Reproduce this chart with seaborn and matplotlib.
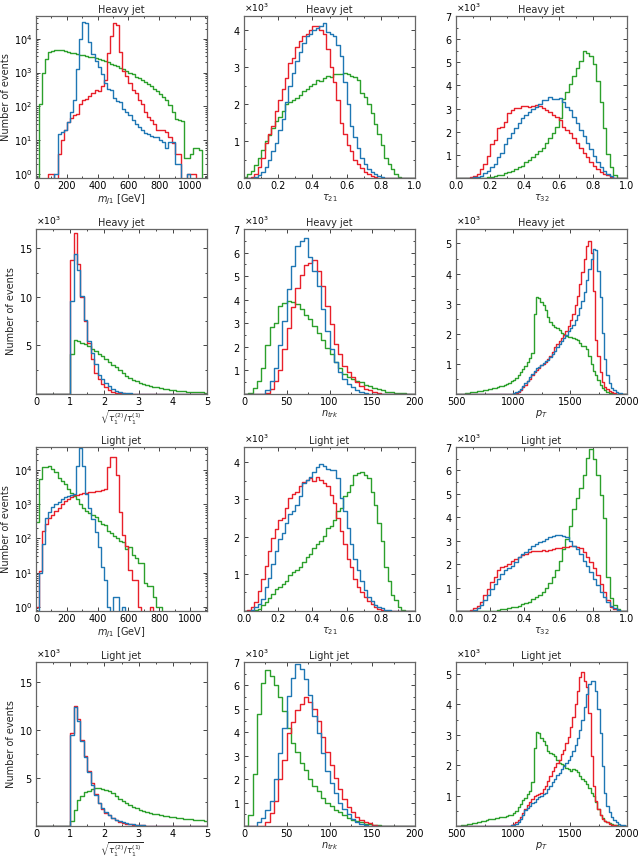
import numpy as np
import matplotlib
matplotlib.use("Agg")
import matplotlib.pyplot as plt
from matplotlib.ticker import ScalarFormatter, AutoMinorLocator
import seaborn as sns

sns.set_style("ticks")
plt.rcParams['font.family'] = ['DejaVu Sans']

# ---------------- data (counts per bin) ----------------
# jet mass, 20 GeV bins from 0 to 1100 (log scale panels)
heavy_mass_green = [0, 120, 1000, 2500, 4000, 4300, 4500, 4600, 4600, 4400,
                    4000, 3900, 3700, 3500, 3400, 3300, 3100, 2900, 2800, 2650,
                    2500, 2350, 2200, 2000, 1850, 1650, 1550, 1400, 1250, 1120,
                    1000, 880, 750, 680, 600, 520, 450, 400, 330, 280,
                    230, 190, 150, 110, 70, 42, 40, 38, 3, 3,
                    4, 6, 6, 5, 0]
heavy_mass_red = [0, 0, 0, 0, 1, 1, 0, 4, 10, 20,
                  35, 45, 55, 60, 120, 150, 160, 200, 250, 300,
                  280, 400, 600, 3800, 12000, 30000, 26000, 4000, 1100, 800,
                  500, 300, 250, 150, 120, 70, 50, 40, 30, 20,
                  20, 20, 18, 12, 8, 4, 4, 0, 0, 1,
                  1, 1, 0, 0, 0]
heavy_mass_blue = [0, 0, 0, 0, 0, 0, 1, 15, 17, 20,
                   35, 70, 150, 1300, 10000, 32000, 30000, 8000, 3500, 2200,
                   1500, 900, 480, 330, 300, 180, 140, 130, 85, 70,
                   55, 40, 30, 25, 20, 16, 15, 13, 12, 12,
                   10, 9, 6, 9, 9, 2, 2, 0, 0, 1,
                   0, 0, 0, 0, 0]
light_mass_green = [300, 5400, 12000, 12500, 13000, 10500, 8500, 6000, 4800, 3800,
                    2750, 2200, 1750, 1400, 1000, 800, 620, 550, 500, 420,
                    330, 270, 240, 170, 140, 120, 100, 85, 80, 50,
                    57, 32, 26, 19, 19, 5, 4, 4, 2, 1,
                    1, 0, 0, 0, 0, 0, 0, 0, 0, 0,
                    0, 0, 0, 0, 0]
light_mass_red = [1, 11, 160, 270, 400, 500, 650, 800, 1000, 1250,
                  1450, 1650, 1800, 1900, 2000, 2100, 2200, 2250, 2300, 2400,
                  2450, 2550, 2800, 12000, 24000, 24000, 7000, 600, 130, 60,
                  12, 6, 6, 1, 0, 0, 0, 1, 0, 0,
                  0, 0, 0, 0, 0, 0, 0, 0, 0, 0,
                  0, 0, 0, 0, 0]
light_mass_blue = [0, 10, 70, 400, 600, 850, 1000, 1200, 1400, 1600,
                   1700, 1800, 2000, 13000, 45000, 13000, 2000, 800, 370, 150,
                   57, 15, 6, 1, 0, 2, 2, 0, 1, 0,
                   0, 0, 0, 0, 0, 0, 0, 0, 0, 0,
                   0, 0, 0, 0, 0, 0, 0, 0, 0, 0,
                   0, 0, 0, 0, 0]

# tau21, 0.02 bins from 0 to 1 (x 10^3 events)
heavy_tau21_green = [0.02, 0.1, 0.2, 0.35, 0.55, 0.75, 1.0, 1.15, 1.35, 1.55,
                     1.65, 1.8, 2.0, 2.05, 2.1, 2.15, 2.25, 2.35, 2.4, 2.5,
                     2.55, 2.65, 2.62, 2.7, 2.75, 2.73, 2.8, 2.8, 2.82, 2.85,
                     2.8, 2.77, 2.72, 2.65, 2.3, 2.2, 2.0, 1.75, 1.45, 1.2,
                     0.9, 0.55, 0.38, 0.25, 0.12, 0.03, 0, 0, 0, 0]
heavy_tau21_red = [0, 0, 0.02, 0.1, 0.3, 0.55, 0.95, 1.2, 1.4, 1.8,
                   2.1, 2.4, 2.7, 3.1, 3.25, 3.55, 3.7, 3.85, 3.9, 4.0,
                   4.1, 4.1, 4.0, 3.9, 3.5, 3.0, 2.6, 2.1, 1.5, 1.2,
                   0.9, 0.72, 0.5, 0.38, 0.27, 0.17, 0.1, 0.06, 0.03, 0.01,
                   0, 0, 0, 0, 0, 0, 0, 0, 0, 0]
heavy_tau21_blue = [0, 0, 0, 0.02, 0.08, 0.15, 0.3, 0.5, 0.72, 0.95,
                    1.3, 1.6, 2.05, 2.5, 2.85, 3.15, 3.4, 3.65, 3.85, 3.9,
                    4.0, 4.05, 4.1, 4.18, 3.95, 3.9, 3.85, 3.6, 3.3, 2.6,
                    2.0, 1.4, 1.1, 0.8, 0.55, 0.38, 0.25, 0.15, 0.1, 0.05,
                    0.02, 0, 0, 0, 0, 0, 0, 0, 0, 0]
light_tau21_green = [0, 0, 0, 0.02, 0.05, 0.16, 0.25, 0.34, 0.47, 0.6,
                     0.65, 0.73, 0.82, 0.96, 1.04, 1.09, 1.18, 1.31, 1.44, 1.53,
                     1.7, 1.8, 1.88, 2.02, 2.24, 2.28, 2.46, 2.68, 2.77, 3.08,
                     3.21, 3.39, 3.65, 3.72, 3.74, 3.65, 3.57, 3.21, 2.86, 2.37,
                     1.88, 1.18, 0.82, 0.42, 0.29, 0.12, 0.04, 0, 0, 0]
light_tau21_red = [0, 0.03, 0.1, 0.25, 0.55, 0.87, 1.2, 1.6, 1.97, 2.2,
                   2.45, 2.5, 2.77, 3.05, 3.15, 3.2, 3.35, 3.48, 3.52, 3.57,
                   3.5, 3.6, 3.52, 3.45, 3.35, 3.12, 2.9, 2.5, 2.15, 1.8,
                   1.4, 1.17, 0.87, 0.65, 0.5, 0.38, 0.28, 0.2, 0.12, 0.06,
                   0.03, 0.01, 0, 0, 0, 0, 0, 0, 0, 0]
light_tau21_blue = [0, 0, 0.03, 0.1, 0.2, 0.33, 0.65, 0.9, 1.27, 1.62,
                    1.93, 2.1, 2.37, 2.6, 2.68, 2.86, 3.1, 3.43, 3.52, 3.6,
                    3.75, 3.88, 3.94, 3.9, 3.83, 3.8, 3.78, 3.57, 3.04, 2.68,
                    2.24, 1.8, 1.4, 1.09, 0.82, 0.56, 0.38, 0.27, 0.16, 0.12,
                    0.07, 0.04, 0.02, 0.01, 0, 0, 0, 0, 0, 0]

# tau32, 0.02 bins from 0 to 1 (x 10^3 events)
heavy_tau32_green = [0, 0, 0, 0, 0, 0, 0, 0, 0, 0.03,
                     0.06, 0.08, 0.11, 0.15, 0.2, 0.25, 0.32, 0.39, 0.46, 0.54,
                     0.68, 0.77, 0.92, 1.03, 1.17, 1.31, 1.52, 1.73, 1.94, 2.22,
                     2.6, 3.42, 3.7, 4.06, 4.4, 4.76, 5.04, 5.49, 5.42, 5.28,
                     4.94, 4.2, 3.28, 2.15, 1.03, 0.46, 0.11, 0.02, 0, 0]
heavy_tau32_red = [0, 0, 0, 0, 0.04, 0.1, 0.18, 0.4, 0.6, 0.96,
                   1.45, 1.66, 2.15, 2.22, 2.44, 2.8, 2.93, 3.03, 3.03, 3.1,
                   3.11, 3.07, 3.12, 3.17, 3.1, 3.03, 2.93, 2.86, 2.72, 2.65,
                   2.5, 2.22, 2.08, 1.94, 1.73, 1.52, 1.31, 1.1, 0.89, 0.68,
                   0.5, 0.4, 0.25, 0.18, 0.11, 0.04, 0.01, 0, 0, 0]
heavy_tau32_blue = [0, 0, 0, 0, 0, 0.03, 0.05, 0.1, 0.2, 0.32,
                    0.46, 0.6, 0.89, 1.1, 1.45, 1.73, 1.94, 2.15, 2.37, 2.58,
                    2.72, 2.86, 3.0, 3.07, 3.21, 3.35, 3.39, 3.49, 3.42, 3.4,
                    3.45, 3.28, 3.07, 2.93, 2.65, 2.37, 2.08, 1.8, 1.52, 1.24,
                    0.96, 0.68, 0.46, 0.3, 0.18, 0.08, 0.02, 0, 0, 0]
light_tau32_green = [0, 0, 0, 0, 0, 0, 0, 0, 0, 0,
                     0, 0, 0.05, 0.07, 0.09, 0.12, 0.15, 0.19, 0.22, 0.28,
                     0.34, 0.4, 0.5, 0.58, 0.68, 0.8, 1.0, 1.2, 1.45, 1.75,
                     2.15, 2.65, 3.07, 3.63, 4.34, 4.83, 5.25, 5.82, 6.52, 6.92,
                     6.5, 5.82, 4.97, 3.99, 1.45, 0.54, 0.25, 0.08, 0.02, 0]
light_tau32_red = [0, 0, 0, 0, 0.04, 0.11, 0.2, 0.39, 0.68, 0.96,
                   1.24, 1.45, 1.73, 1.87, 1.94, 2.01, 2.15, 2.22, 2.3, 2.37,
                   2.44, 2.5, 2.54, 2.58, 2.58, 2.6, 2.54, 2.6, 2.65, 2.67,
                   2.69, 2.72, 2.75, 2.79, 2.77, 2.74, 2.7, 2.5, 2.3, 2.1,
                   1.85, 1.55, 1.17, 0.82, 0.46, 0.18, 0.07, 0.02, 0, 0]
light_tau32_blue = [0, 0, 0, 0, 0, 0.03, 0.11, 0.25, 0.46, 0.68,
                    0.96, 1.17, 1.38, 1.59, 1.73, 1.85, 1.94, 2.11, 2.3, 2.44,
                    2.5, 2.65, 2.79, 2.86, 2.93, 3.0, 3.07, 3.14, 3.21, 3.25,
                    3.25, 3.21, 3.14, 3.0, 2.79, 2.65, 2.44, 2.15, 1.94, 1.66,
                    1.38, 1.1, 0.82, 0.6, 0.39, 0.21, 0.11, 0.03, 0, 0]

# sqrt(tau1(2)/tau1(1)), 0.1 bins from 0 to 5 (x 10^3 events)
heavy_sqrt_green = [0, 0, 0, 0, 0, 0, 0, 0, 0, 0,
                    4.1, 5.6, 5.5, 5.3, 5.2, 4.9, 4.6, 4.4, 4.1, 3.9,
                    3.6, 3.3, 3.0, 2.75, 2.45, 2.15, 1.9, 1.65, 1.45, 1.3,
                    1.15, 1.05, 0.95, 0.85, 0.75, 0.67, 0.6, 0.53, 0.47, 0.42,
                    0.37, 0.33, 0.3, 0.27, 0.24, 0.22, 0.2, 0.18, 0.16, 0.15]
heavy_sqrt_red = [0, 0, 0, 0, 0, 0, 0, 0, 0, 0,
                  13.8, 16.6, 13.4, 10.0, 7.5, 5.3, 3.6, 2.2, 1.5, 1.0,
                  0.7, 0.4, 0.25, 0.15, 0.1, 0.07, 0.04, 0.02, 0.01, 0.01,
                  0, 0, 0, 0, 0, 0, 0, 0, 0, 0,
                  0, 0, 0, 0, 0, 0, 0, 0, 0, 0]
heavy_sqrt_blue = [0, 0, 0, 0, 0, 0, 0, 0, 0, 0,
                   9.6, 14.4, 12.8, 10.1, 7.6, 5.5, 4.2, 3.1, 2.0, 1.5,
                   1.1, 0.8, 0.5, 0.35, 0.25, 0.15, 0.1, 0.06, 0.04, 0.02,
                   0.01, 0.01, 0.01, 0, 0, 0, 0, 0, 0, 0,
                   0, 0, 0, 0, 0, 0, 0, 0, 0, 0]
light_sqrt_green = [0, 0, 0, 0, 0, 0, 0, 0, 0, 0,
                    0.5, 1.7, 2.7, 3.1, 3.5, 3.7, 3.85, 3.95, 3.95, 3.85,
                    3.75, 3.6, 3.45, 3.15, 2.85, 2.6, 2.4, 2.2, 2.0, 1.85,
                    1.72, 1.6, 1.5, 1.4, 1.3, 1.22, 1.15, 1.08, 1.02, 0.97,
                    0.92, 0.87, 0.82, 0.77, 0.73, 0.69, 0.65, 0.62, 0.59, 0.56]
light_sqrt_red = [0, 0, 0, 0, 0, 0, 0, 0, 0, 0,
                  9.7, 12.5, 11.2, 9.0, 7.3, 5.7, 4.5, 3.3, 2.4, 1.8,
                  1.4, 1.1, 0.8, 0.6, 0.45, 0.35, 0.25, 0.2, 0.15, 0.12,
                  0.08, 0.06, 0.05, 0.04, 0.03, 0.02, 0.02, 0.01, 0.01, 0.01,
                  0, 0, 0, 0, 0, 0, 0, 0, 0, 0]
light_sqrt_blue = [0, 0, 0, 0, 0, 0, 0, 0, 0, 0,
                   9.5, 12.4, 11.0, 8.9, 7.2, 5.6, 4.3, 3.2, 2.4, 1.9,
                   1.5, 1.15, 0.85, 0.65, 0.5, 0.38, 0.28, 0.22, 0.17, 0.12,
                   0.1, 0.07, 0.05, 0.04, 0.03, 0.02, 0.02, 0.01, 0.01, 0.01,
                   0, 0, 0, 0, 0, 0, 0, 0, 0, 0]

# n_trk, bins of 5 from 0 to 200 (x 10^3 events)
heavy_ntrk_green = [0, 0.05, 0.25, 0.55, 1.1, 2.1, 2.85, 3.0, 3.75, 3.85,
                    3.95, 3.9, 3.8, 3.6, 3.35, 3.2, 2.9, 2.6, 2.3, 1.95,
                    1.7, 1.35, 1.1, 0.85, 0.72, 0.65, 0.55, 0.5, 0.4, 0.32,
                    0.25, 0.2, 0.15, 0.1, 0.08, 0.06, 0.04, 0.03, 0.02, 0.01]
heavy_ntrk_red = [0, 0, 0, 0, 0, 0.05, 0.2, 0.55, 1.0, 1.9,
                  2.8, 3.7, 4.5, 5.06, 5.48, 5.55, 5.7, 5.2, 4.57, 3.73,
                  2.96, 2.12, 1.7, 1.2, 0.93, 0.72, 0.5, 0.34, 0.22, 0.15,
                  0.08, 0.04, 0.02, 0.01, 0, 0, 0, 0, 0, 0]
heavy_ntrk_blue = [0, 0, 0, 0, 0.02, 0.15, 0.55, 1.1, 2.1, 3.1,
                   4.46, 5.41, 6.26, 6.5, 6.6, 5.83, 5.2, 4.57, 3.59, 2.68,
                   1.9, 1.35, 0.93, 0.62, 0.43, 0.29, 0.18, 0.08, 0.04, 0.02,
                   0, 0, 0, 0, 0, 0, 0, 0, 0, 0]
light_ntrk_green = [0.02, 0.45, 2.2, 4.8, 6.1, 6.65, 6.4, 6.0, 5.5, 4.9,
                    4.2, 3.55, 3.15, 2.7, 2.4, 2.0, 1.7, 1.5, 1.2, 1.0,
                    0.85, 0.7, 0.58, 0.45, 0.35, 0.27, 0.2, 0.15, 0.1, 0.07,
                    0.05, 0.03, 0.02, 0.01, 0.01, 0, 0, 0, 0, 0]
light_ntrk_red = [0, 0, 0, 0, 0, 0.15, 0.55, 1.07, 2.0, 2.8,
                  3.95, 4.44, 4.93, 5.2, 5.52, 5.28, 5.0, 4.5, 3.8, 3.17,
                  2.6, 2.05, 1.56, 1.14, 0.79, 0.58, 0.39, 0.27, 0.18, 0.11,
                  0.05, 0.02, 0, 0, 0, 0, 0, 0, 0, 0]
light_ntrk_blue = [0, 0, 0, 0.15, 0.35, 0.7, 1.07, 2.0, 3.1, 4.2,
                   5.55, 6.3, 6.9, 6.7, 6.26, 5.6, 4.7, 3.95, 3.1, 2.33,
                   1.84, 1.42, 1.0, 0.72, 0.5, 0.32, 0.18, 0.1, 0.05, 0.02,
                   0, 0, 0, 0, 0, 0, 0, 0, 0, 0]

# p_T, 20 GeV bins from 500 to 2000 (x 10^3 events)
heavy_pt_green = [0, 0, 0, 0, 0.02, 0.04, 0.05, 0.06, 0.08, 0.09,
                  0.1, 0.11, 0.13, 0.14, 0.16, 0.17, 0.19, 0.21, 0.23, 0.25,
                  0.27, 0.3, 0.34, 0.38, 0.42, 0.47, 0.53, 0.62, 0.72, 0.82,
                  0.94, 1.05, 1.2, 1.37, 2.67, 3.23, 3.19, 3.05, 2.94, 2.78,
                  2.56, 2.4, 2.29, 2.24, 2.18, 2.11, 2.02, 2.0, 1.91, 1.89,
                  1.9, 1.86, 1.83, 1.78, 1.7, 1.61, 1.59, 1.48, 1.26, 0.99,
                  0.78, 0.62, 0.45, 0.31, 0.2, 0.13, 0.08, 0.04, 0.02, 0,
                  0, 0, 0, 0, 0]
heavy_pt_red = [0, 0, 0, 0, 0, 0, 0, 0, 0, 0,
                0, 0, 0, 0, 0, 0, 0, 0, 0, 0,
                0, 0, 0, 0, 0, 0, 0.03, 0.08, 0.14, 0.22,
                0.3, 0.42, 0.5, 0.62, 0.72, 0.8, 0.88, 0.95, 1.0, 1.06,
                1.15, 1.27, 1.4, 1.55, 1.65, 1.75, 1.85, 1.96, 2.1, 2.27,
                2.45, 2.67, 2.95, 3.27, 3.65, 4.05, 4.5, 4.9, 5.07, 4.67,
                3.43, 1.8, 1.26, 0.72, 0.4, 0.24, 0.15, 0.1, 0.05, 0.02,
                0, 0, 0, 0, 0]
heavy_pt_blue = [0, 0, 0, 0, 0, 0, 0, 0, 0, 0,
                 0, 0, 0, 0, 0, 0, 0, 0, 0, 0,
                 0, 0, 0, 0, 0, 0.02, 0.05, 0.1, 0.15, 0.25,
                 0.35, 0.42, 0.55, 0.65, 0.75, 0.85, 0.91, 0.97, 1.02, 1.08,
                 1.14, 1.22, 1.32, 1.43, 1.55, 1.65, 1.75, 1.86, 1.97, 2.08,
                 2.18, 2.3, 2.45, 2.62, 2.85, 3.1, 3.4, 3.78, 4.15, 4.5,
                 4.81, 4.78, 4.08, 3.21, 2.02, 1.16, 0.62, 0.35, 0.2, 0.13,
                 0.08, 0.04, 0.02, 0.01, 0]
light_pt_green = [0, 0.01, 0.02, 0.03, 0.04, 0.05, 0.07, 0.09, 0.11, 0.13,
                  0.14, 0.16, 0.18, 0.2, 0.22, 0.24, 0.23, 0.26, 0.27, 0.28,
                  0.29, 0.31, 0.32, 0.35, 0.37, 0.42, 0.5, 0.62, 0.72, 0.85,
                  0.92, 1.05, 1.16, 1.43, 2.56, 3.1, 3.05, 2.89, 2.78, 2.67,
                  2.45, 2.4, 2.35, 2.31, 2.18, 2.08, 2.04, 2.02, 1.91, 1.86,
                  1.81, 1.86, 1.83, 1.77, 1.64, 1.54, 1.48, 1.37, 1.26, 1.1,
                  0.99, 0.78, 0.56, 0.35, 0.26, 0.18, 0.13, 0.1, 0.06, 0.04,
                  0.02, 0, 0, 0, 0]
light_pt_red = [0, 0, 0, 0, 0, 0, 0, 0, 0, 0,
                0, 0, 0, 0, 0, 0, 0, 0, 0, 0,
                0, 0, 0, 0, 0.02, 0.06, 0.12, 0.2, 0.3, 0.42,
                0.55, 0.68, 0.8, 0.89, 0.97, 1.02, 1.05, 1.1, 1.21, 1.32,
                1.48, 1.64, 1.81, 1.95, 2.08, 2.18, 2.35, 2.51, 2.72, 2.94,
                3.26, 3.59, 4.02, 4.45, 4.91, 5.05, 4.78, 4.56, 3.7, 2.29,
                1.32, 0.83, 0.56, 0.35, 0.24, 0.17, 0.13, 0.08, 0.04, 0.02,
                0, 0, 0, 0, 0]
light_pt_blue = [0, 0, 0, 0, 0, 0, 0, 0, 0, 0,
                 0, 0, 0, 0, 0, 0, 0, 0, 0, 0,
                 0, 0, 0, 0.01, 0.02, 0.04, 0.08, 0.13, 0.22, 0.35,
                 0.51, 0.6, 0.67, 0.74, 0.8, 0.89, 0.94, 0.99, 1.05, 1.1,
                 1.21, 1.32, 1.43, 1.54, 1.66, 1.75, 1.86, 1.97, 2.08, 2.18,
                 2.29, 2.45, 2.67, 2.89, 3.16, 3.48, 3.91, 4.35, 4.67, 4.78,
                 4.78, 4.45, 3.86, 3.05, 1.97, 1.1, 0.67, 0.45, 0.29, 0.2,
                 0.13, 0.08, 0.04, 0.02, 0.01]

titles = ["Heavy jet", "Light jet"]
xlabels = [r"$m_{J1}$ [GeV]", r"$\tau_{21}$", r"$\tau_{32}$",
           r"$\sqrt{\tau_1^{(2)}/\tau_1^{(1)}}$", r"$n_{trk}$", r"$p_T$"]

# ---------------- style ----------------
C_GREEN, C_RED, C_BLUE = "#2ca02c", "#e8202a", "#1f77b4"
FS = 7.0

fig = plt.figure(figsize=(6.4, 8.59), dpi=100)
W, H = 640.0, 859.0
col_lr = [(36, 207), (244, 415), (456, 627)]
row_tb = [[(16, 178), (229, 394)], [(447, 611), (662, 826)]]

# binning (n bins, range), xlim, xticks, log-y
specs = {
    "mass": (55, (0, 1100), (0, 1110), [0, 200, 400, 600, 800, 1000], True),
    "tau21": (50, (0, 1), (0, 1), [0, 0.2, 0.4, 0.6, 0.8, 1.0], False),
    "tau32": (50, (0, 1), (0, 1), [0, 0.2, 0.4, 0.6, 0.8, 1.0], False),
    "sqrt": (50, (0, 5), (0, 5), [0, 1, 2, 3, 4, 5], False),
    "ntrk": (40, (0, 200), (0, 200), [0, 50, 100, 150, 200], False),
    "pt": (75, (500, 2000), (500, 2000), [500, 1000, 1500, 2000], False),
}

panels = [
    (0, 0, 0, "mass", heavy_mass_green, heavy_mass_red, heavy_mass_blue, None, None, 0),
    (0, 0, 1, "tau21", heavy_tau21_green, heavy_tau21_red, heavy_tau21_blue, 4.38, [1, 2, 3, 4], 1),
    (0, 0, 2, "tau32", heavy_tau32_green, heavy_tau32_red, heavy_tau32_blue, 7.0, [1, 2, 3, 4, 5, 6, 7], 2),
    (0, 1, 0, "sqrt", heavy_sqrt_green, heavy_sqrt_red, heavy_sqrt_blue, 17.0, [5, 10, 15], 3),
    (0, 1, 1, "ntrk", heavy_ntrk_green, heavy_ntrk_red, heavy_ntrk_blue, 7.0, [1, 2, 3, 4, 5, 6, 7], 4),
    (0, 1, 2, "pt", heavy_pt_green, heavy_pt_red, heavy_pt_blue, 5.48, [1, 2, 3, 4, 5], 5),
    (1, 0, 0, "mass", light_mass_green, light_mass_red, light_mass_blue, None, None, 0),
    (1, 0, 1, "tau21", light_tau21_green, light_tau21_red, light_tau21_blue, 4.41, [1, 2, 3, 4], 1),
    (1, 0, 2, "tau32", light_tau32_green, light_tau32_red, light_tau32_blue, 7.0, [1, 2, 3, 4, 5, 6, 7], 2),
    (1, 1, 0, "sqrt", light_sqrt_green, light_sqrt_red, light_sqrt_blue, 17.1, [5, 10, 15], 3),
    (1, 1, 1, "ntrk", light_ntrk_green, light_ntrk_red, light_ntrk_blue, 7.0, [1, 2, 3, 4, 5, 6, 7], 4),
    (1, 1, 2, "pt", light_pt_green, light_pt_red, light_pt_blue, 5.39, [1, 2, 3, 4, 5], 5),
]

for block, r, c, key, g, rd, b, ymax, yt, xl in panels:
    nbins, brange, xlim, xticks, logy = specs[key]
    top, bot = row_tb[block][r]
    left, right = col_lr[c]
    ax = fig.add_axes([left / W, 1 - bot / H, (right - left) / W, (bot - top) / H])
    edges = np.linspace(brange[0], brange[1], nbins + 1)
    centers = 0.5 * (edges[:-1] + edges[1:])
    scale = 1.0 if logy else 1000.0
    for vals, col in ((g, C_GREEN), (rd, C_RED), (b, C_BLUE)):
        sns.histplot(x=centers, weights=np.asarray(vals, float) * scale,
                     bins=nbins, binrange=brange,
                     element="step", fill=False, color=col, linewidth=1.0, ax=ax)
    ax.set_xlim(*xlim)
    ax.set_xticks(xticks)
    if key in ("tau21", "tau32"):
        ax.set_xticklabels([f"{t:.1f}" for t in xticks])
    if logy:
        ax.set_yscale("log")
        ax.set_ylim(0.76, 4.7e4)
        ax.set_yticks([1, 10, 100, 1000, 10000])
    else:
        ax.set_ylim(0, ymax * 1000)
        ax.set_yticks([t * 1000 for t in yt])
        fmt = ScalarFormatter(useMathText=True)
        fmt.set_powerlimits((3, 3))
        ax.yaxis.set_major_formatter(fmt)
        ax.yaxis.set_minor_locator(AutoMinorLocator(2))
        ax.yaxis.offsetText.set_fontsize(FS - 0.4)
    ax.xaxis.set_minor_locator(AutoMinorLocator(2))
    ax.tick_params(which="both", direction="in", top=True, right=True,
                   labelsize=FS, width=0.7, colors="#444444", labelcolor="black",
                   pad=2.5)
    ax.tick_params(which="major", length=3)
    ax.tick_params(which="minor", length=1.5)
    for sp in ax.spines.values():
        sp.set_color("#666666")
        sp.set_linewidth(0.9)
    ax.set_title(titles[block], fontsize=FS, pad=2)
    xfs = FS - 0.8 if key == "sqrt" else FS
    ax.set_xlabel(xlabels[xl], fontsize=xfs, labelpad=0.5)
    if c == 0:
        ax.set_ylabel("Number of events", fontsize=FS, labelpad=2)
    else:
        ax.set_ylabel("")

fig.savefig("out.png", dpi=100)
